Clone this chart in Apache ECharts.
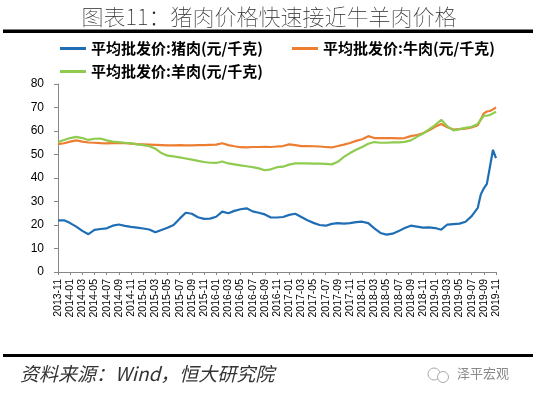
<!DOCTYPE html>
<html>
<head>
<meta charset="utf-8">
<script src="https://cdn.jsdelivr.net/npm/echarts@6/dist/echarts.min.js"></script>
<style>
html,body{margin:0;padding:0;background:#fff;}
#main{width:538px;height:395px;}
</style>
</head>
<body>
<div id="main"></div>
<script>
// x positions in months after 2013-11
const monthIdx = [0,1,2,3,4,5,6,7,8,9,10,11,12,13,14,15,16,17,18,19,20,21,22,23,24,25,26,27,28,29,30,31,32,33,34,35,36,37,38,39,40,41,42,43,44,45,46,47,48,49,50,51,52,53,54,55,56,57,58,59,60,61,62,63,64,65,66,67,68,69,69.5,70,70.5,71,71.5,72];
const tickLabels = ["2013-11","2014-01","2014-03","2014-05","2014-07","2014-09","2014-11","2015-01","2015-03","2015-05","2015-07","2015-09","2015-11","2016-01","2016-03","2016-05","2016-07","2016-09","2016-11","2017-01","2017-03","2017-05","2017-07","2017-09","2017-11","2018-01","2018-03","2018-05","2018-07","2018-09","2018-11","2019-01","2019-03","2019-05","2019-07","2019-09","2019-11"];
const seriesNames = ["平均批发价:猪肉(元/千克)","平均批发价:牛肉(元/千克)","平均批发价:羊肉(元/千克)"];
const pork = [22.0,22.0,20.8,19.3,17.5,16.1,17.9,18.3,18.6,19.7,20.2,19.6,19.2,18.9,18.5,18.1,16.9,17.9,18.8,
  20.0,22.7,25.2,24.8,23.3,22.6,22.7,23.5,25.7,25.0,26.0,26.7,27.1,25.8,25.2,24.5,23.2,23.2,
  23.4,24.3,24.8,23.4,22.0,20.9,20.0,19.7,20.5,20.8,20.6,20.8,21.2,21.4,20.8,18.6,16.6,
  15.9,16.3,17.4,18.7,19.7,19.3,18.9,19.0,18.7,18.0,20.2,20.4,20.6,21.4,23.8,27.3,
  33.0,35.6,37.5,44.7,52.0,48.5];
const beef = [54.4,54.8,55.5,56.0,55.5,55.1,55.0,54.8,54.7,54.8,54.8,54.8,54.6,54.4,54.3,54.2,54.1,54.0,53.9,
  53.9,54.0,53.9,53.9,54.0,54.0,54.1,54.2,54.8,54.0,53.5,53.1,53.0,53.2,53.2,53.3,53.2,53.4,
  53.6,54.3,54.0,53.6,53.6,53.5,53.4,53.2,53.0,53.6,54.2,54.9,55.8,56.5,57.8,57.0,57.0,
  57.0,57.0,56.9,57.0,57.8,58.3,59.0,60.3,61.8,63.0,61.6,60.6,60.8,61.0,61.5,62.5,
  65.0,67.5,68.3,68.5,69.2,70.0];
const mutton = [55.3,56.2,57.0,57.5,57.0,56.2,56.7,56.8,56.0,55.5,55.3,55.0,54.8,54.3,54.0,53.5,52.5,50.6,49.5,
  49.2,48.8,48.3,47.8,47.3,46.8,46.5,46.4,47.0,46.2,45.8,45.4,45.0,44.6,44.1,43.3,43.7,44.6,
  44.8,45.7,46.2,46.2,46.2,46.1,46.1,46.0,45.8,46.9,49.0,50.6,52.0,53.2,54.6,55.3,55.0,
  55.0,55.2,55.2,55.4,56.0,57.5,58.9,60.7,62.5,64.8,62.0,60.3,60.8,61.3,61.8,63.0,
  64.8,66.5,66.5,66.8,67.5,68.2];

const colors = ['#1F6EB5','#ED7D31','#8FCB4F'];
const pair = arr => monthIdx.map((m,i)=>[m,arr[i]]);
const cjk = '"Noto Sans CJK SC", sans-serif';
const legendText = {fontFamily:cjk, fontSize:15, fontWeight:'bold', color:'#000'};
const legendBase = {icon:'rect', itemWidth:26, itemHeight:3, textStyle:legendText};

const chart = echarts.init(document.getElementById('main'), null, {renderer:'canvas'});
chart.setOption({
  animation:false,
  backgroundColor:'#fff',
  title:{
    text:'图表11：猪肉价格快速接近牛羊肉价格',
    left:'center', top:1,
    textStyle:{fontFamily:cjk, fontSize:22, fontWeight:'lighter', color:'#2a2a2a'}
  },
  legend:[
    Object.assign({data:[seriesNames[0]], left:55, top:36}, legendBase),
    Object.assign({data:[seriesNames[1]], left:287, top:36}, legendBase),
    Object.assign({data:[seriesNames[2]], left:55, top:59}, legendBase)
  ],
  grid:{left:58, right:42, top:84, bottom:123, containLabel:false},
  xAxis:{
    type:'value', min:0, max:72, interval:2,
    axisLine:{show:true, lineStyle:{color:'#868686'}},
    axisTick:{show:true, length:3, lineStyle:{color:'#868686'}},
    splitLine:{show:false},
    axisLabel:{rotate:90, margin:7, fontSize:10.5, color:'#000', fontFamily:'"Liberation Sans", Arial, sans-serif',
      formatter:v => tickLabels[Math.round(v/2)] || ''}
  },
  yAxis:{
    type:'value', min:0, max:80, interval:10,
    axisLine:{show:true, lineStyle:{color:'#868686'}},
    axisTick:{show:true, length:4, lineStyle:{color:'#868686'}},
    splitLine:{show:false},
    axisLabel:{margin:14, fontSize:12, color:'#000', fontFamily:'"Liberation Sans", Arial, sans-serif'}
  },
  series:[
    {name:seriesNames[0], type:'line', data:pair(pork), showSymbol:false, color:colors[0], lineStyle:{width:2.2, color:colors[0]}},
    {name:seriesNames[1], type:'line', data:pair(beef), showSymbol:false, color:colors[1], lineStyle:{width:2.2, color:colors[1]}},
    {name:seriesNames[2], type:'line', data:pair(mutton), showSymbol:false, color:colors[2], lineStyle:{width:2.2, color:colors[2]}}
  ],
  graphic:[
    {type:'rect', shape:{x:3, y:29.5, width:530, height:3.5}, style:{fill:'#000'}},
    {type:'rect', shape:{x:3, y:354, width:530, height:3}, style:{fill:'#000'}},
    {type:'text', left:20, top:364, style:{text:'资料来源：Wind，恒大研究院', font:'italic 19px "Noto Sans CJK SC", serif', fill:'#333'}},
    {type:'circle', shape:{cx:434, cy:374, r:6}, style:{fill:'none', stroke:'#aaa', lineWidth:1}},
    {type:'circle', shape:{cx:443, cy:377, r:5.5}, style:{fill:'#fff', stroke:'#aaa', lineWidth:1}},
    {type:'text', left:457, top:367, style:{text:'泽平宏观', font:'13px "Noto Sans CJK SC", sans-serif', fill:'#888'}}
  ]
});
</script>
</body>
</html>
